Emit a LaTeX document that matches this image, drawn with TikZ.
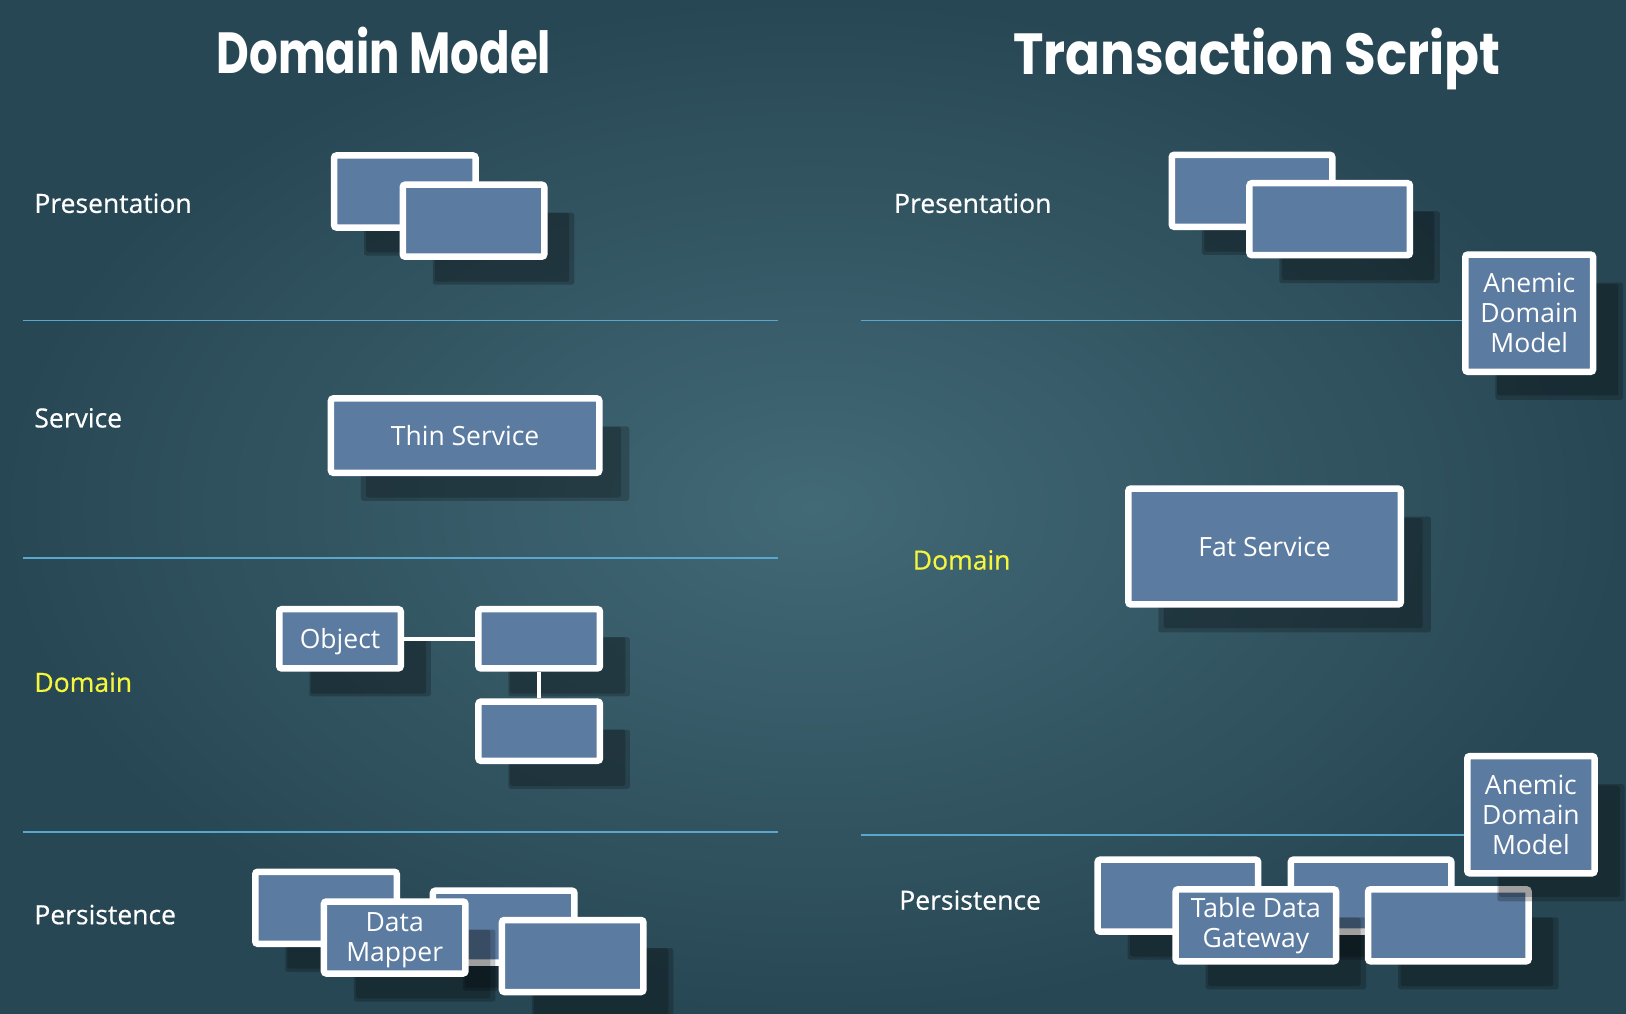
\documentclass[tikz,border=0pt]{standalone}
\usepackage{fontspec}
\setmainfont{Open Sans}
\newfontfamily\titlefont{Poppins}
\newfontfamily\labelfont{Open Sans}[FakeBold=0.5]
\usetikzlibrary{shadows}
\definecolor{boxblue}{RGB}{91,123,160}
\definecolor{bginner}{RGB}{66,105,118}
\definecolor{bgouter}{RGB}{40,71,84}
\definecolor{layerline}{RGB}{88,168,206}
\definecolor{domyellow}{RGB}{246,246,60}
\begin{document}
\begin{tikzpicture}[x=1pt,y=-1pt,
  box/.style={draw=white, line width=6.5pt, fill=boxblue, rounded corners=2.5pt, inner sep=0pt,
    text=white, align=center, font=\fontsize{26.5}{30}\selectfont,
    drop shadow={shadow xshift=30pt, shadow yshift=-28pt, fill=black, opacity=0.22},
    drop shadow={shadow xshift=30pt, shadow yshift=-28pt, shadow scale=0.95, fill=black, opacity=0.2}},
  small/.style={box, minimum width=141.5pt, minimum height=72pt},
  wide/.style={box, minimum width=160.5pt, minimum height=72pt},
  layer/.style={font=\labelfont\fontsize{26.5}{30}\selectfont, text=white, anchor=west, inner sep=0pt},
  title/.style={font=\titlefont\bfseries\fontsize{58}{60}\selectfont, text=white, anchor=base},
  sep/.style={layerline, line width=1.6pt},
  link/.style={white, line width=4.5pt}]
 \useasboundingbox (0,0) rectangle (1626,1014);
 \clip (0,0) rectangle (1626,1014);
 \shade[inner color=bginner, outer color=bgouter] (0,0) rectangle (1626,1014);
 % titles
 \node[title] (tdm) at (384,74) {\scalebox{0.776}[1]{Domain Model}};
 \node[title] (tts) at (1257,75) {\scalebox{0.887}[1]{Transaction Script}};
 % layer separators
 \foreach \y in {320.4,557.9,831.7} \draw[sep] (22.8,\y) -- (777.8,\y);
 \draw[sep] (860.7,320.4) -- (1500,320.4);
 \draw[sep] (860.7,834.8) -- (1500,834.8);
 % layer names
 \node[layer] (lpres) at (34.2,203.3) {Presentation};
 \node[layer] (lserv) at (34.2,417.9) {Service};
 \node[layer, text=domyellow] (ldom) at (34.2,682.3) {Domain};
 \node[layer] (lpers) at (34.2,914.6) {Persistence};
 \node[layer] (rpres) at (893.9,203.3) {Presentation};
 \node[layer, text=domyellow] (rdom) at (912.6,560) {Domain};
 \node[layer] (rpers) at (899.1,900.1) {Persistence};
 % domain model side
 \node[small] (dmp1) at (404.8,191.5) {};
 \node[small] (dmp2) at (473.5,220.7) {};
 \node[box, minimum width=268.3pt, minimum height=74.4pt, text depth=-4pt] (thin) at (465.1,435.6) {Thin Service};
 \node[box, minimum width=121.5pt, minimum height=59.2pt, text depth=-1pt] (obj) at (340,638.8) {Object};
 \node[box, minimum width=121.5pt, minimum height=59.2pt] (obja) at (539.2,638.8) {};
 \node[box, minimum width=121.5pt, minimum height=59.2pt] (objb) at (539.2,731.2) {};
 \draw[link] (obj.east) -- (obja.west);
 \draw[link] (obja.south) -- (objb.north);
 \node[small] (dmr1) at (326,907.8) {};
 \node[small] (dmr2) at (503.7,926.7) {};
 \node[small, text depth=-2pt] (mapper) at (394.7,937.5) {Data\\Mapper};
 \node[small] (dmr3) at (572.7,956) {};
 % transaction script side
 \node[wide] (tsp1) at (1252,190.8) {};
 \node[wide] (tsp2) at (1329.7,219.2) {};
 \node[box, minimum width=127.8pt, minimum height=117.2pt, text depth=-4pt] (adm1) at (1529.2,313.2) {Anemic\\Domain\\Model};
 \node[box, minimum width=272.5pt, minimum height=115.9pt, text depth=-4pt] (fat) at (1264.6,546.5) {Fat Service};
 \node[wide] (tsr1) at (1177.9,895.7) {};
 \node[wide] (tsr2) at (1371.1,895.7) {};
 \node[wide] (gateway) at (1255.9,925.3) {Table Data\\Gateway};
 \node[wide] (tsr3) at (1448.4,925.3) {};
 \node[box, minimum width=127.3pt, minimum height=117.2pt, text depth=-4pt] (adm2) at (1530.9,814.7) {Anemic\\Domain\\Model};
\end{tikzpicture}
\end{document}
